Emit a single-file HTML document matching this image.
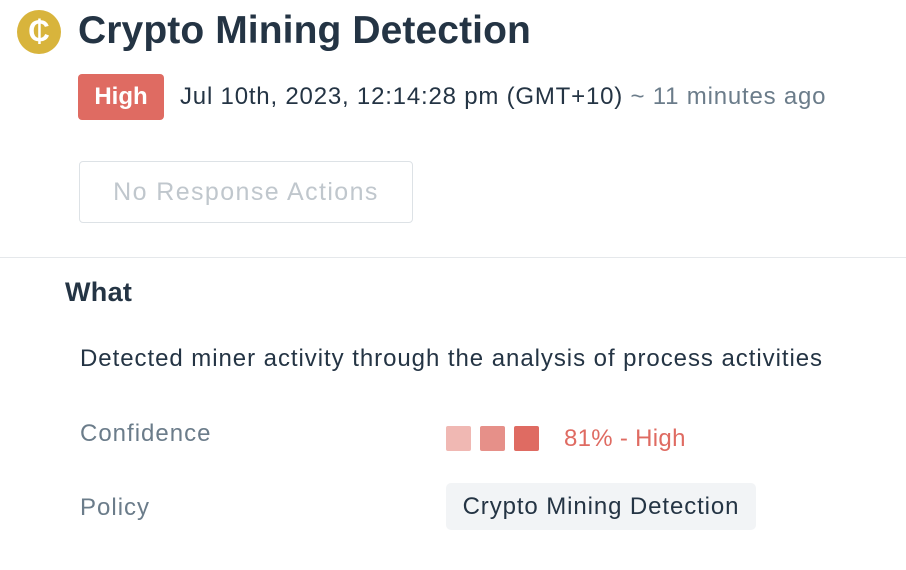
<!DOCTYPE html>
<html><head><meta charset="utf-8"><style>
body{margin:0;width:906px;height:570px;background:#fff;font-family:"Liberation Sans",sans-serif;color:#243444;position:relative;overflow:hidden}
.a{position:absolute;white-space:nowrap}
</style></head><body>
<div class="a" style="left:17px;top:10px;width:44px;height:44px;border-radius:50%;background:#d8b43c;color:#fff;font-weight:bold;font-size:30px;line-height:44px;text-align:center">₵</div>
<div class="a" style="left:78px;top:8px;font-size:39px;font-weight:bold;line-height:46px;letter-spacing:0.1px">Crypto Mining Detection</div>
<div class="a" style="left:78px;top:74px;width:86px;height:46px;border-radius:4px;background:#df6b62;color:#fff;font-weight:bold;font-size:24px;line-height:46px;text-align:center">High</div>
<div class="a" style="left:180px;top:83px;font-size:24px;line-height:28px;letter-spacing:0.8px">Jul 10th, 2023, 12:14:28 pm (GMT+10) <span style="color:#6b7c8a">~ 11 minutes ago</span></div>
<div class="a" style="left:79px;top:161px;width:332px;height:60px;border:1px solid #dde2e6;border-radius:4px;color:#c0c7cd;font-size:25px;line-height:60px;text-align:center;letter-spacing:1.4px">No Response Actions</div>
<div class="a" style="left:0;top:257px;width:906px;height:1px;background:#e5e8eb"></div>
<div class="a" style="left:65px;top:276px;font-size:27px;font-weight:bold;line-height:32px;letter-spacing:0.3px">What</div>
<div class="a" style="left:80px;top:345px;font-size:24px;line-height:28px;letter-spacing:0.95px">Detected miner activity through the analysis of process activities</div>
<div class="a" style="left:80px;top:420px;font-size:24px;line-height:28px;color:#6b7c8a;letter-spacing:1px">Confidence</div>
<div class="a" style="left:446px;top:426px;width:25px;height:25px;border-radius:2px;background:#f0b8b3"></div>
<div class="a" style="left:480px;top:426px;width:25px;height:25px;border-radius:2px;background:#e69089"></div>
<div class="a" style="left:514px;top:426px;width:25px;height:25px;border-radius:2px;background:#df6b62"></div>
<div class="a" style="left:564px;top:425px;font-size:24px;line-height:28px;color:#df6b62;letter-spacing:0.3px">81% - High</div>
<div class="a" style="left:80px;top:494px;font-size:24px;line-height:28px;color:#6b7c8a;letter-spacing:1px">Policy</div>
<div class="a" style="left:446px;top:483px;width:310px;height:47px;border-radius:5px;background:#f2f4f6;font-size:24px;line-height:48px;text-align:center;letter-spacing:0.9px">Crypto Mining Detection</div>
</body></html>
